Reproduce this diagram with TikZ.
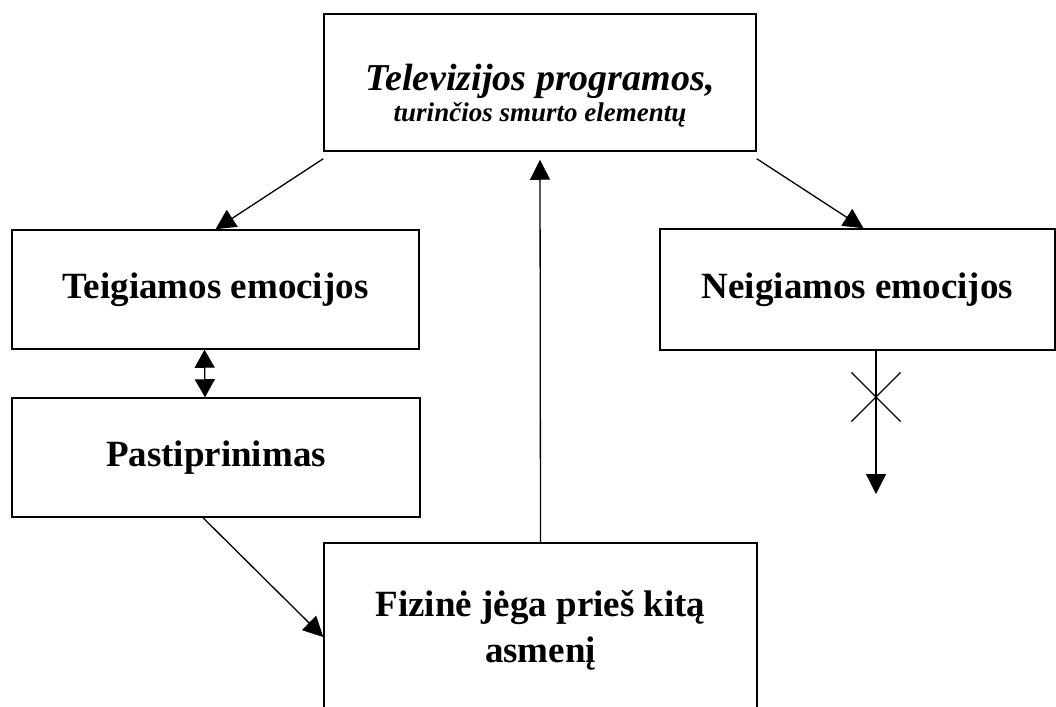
\documentclass[tikz,border=0pt]{standalone}
\usepackage{fontspec}
\setmainfont{Liberation Serif}
\usetikzlibrary{arrows.meta, shapes.misc}
\tikzset{
  box/.style={draw, line width=1.5pt, rectangle, align=center, inner sep=0pt},
  conn/.style={line width=1.3pt, -{Triangle[length=20pt, width=20pt]}},
  big/.style={font=\bfseries\fontsize{37}{46}\selectfont}}

\begin{document}
\begin{tikzpicture}[x=1pt, y=-1pt]
	\clip (0,0) rectangle (1056,706);
	\node[box, minimum width=432pt, minimum height=137pt,
	  font=\bfseries\itshape\fontsize{38}{31}\selectfont] (tv) at (540,82.5)
	  {\rule{0pt}{52pt}Televizijos programos,\\{\fontsize{27}{31}\selectfont turinčios smurto elementų}};
	\node[box, big, minimum width=407pt, minimum height=119pt] (teig) at (215.5,289.5) {Teigiamos emocijos};
	\node[box, big, minimum width=408pt, minimum height=119pt] (past) at (216,457.5) {Pastiprinimas};
	\node[box, big, minimum width=395pt, minimum height=121pt] (neig) at (857.5,289.5) {Neigiamos emocijos};
	\node[box, big, minimum width=433pt, minimum height=174pt] (fiz) at (540.5,630) {Fizinė jėga prieš kitą\\asmenį};
\coordinate (stop) at (876,494);
\draw[conn] ([yshift=-7pt]tv.south west) -- (teig.north);
\draw[conn] ([yshift=-7pt]tv.south east) -- ([xshift=6pt]neig.north);
\draw[conn] (fiz.north) -- ([yshift=-8pt]tv.south);
\draw[conn, {Triangle[length=18pt, width=20pt]}-{Triangle[length=18pt, width=20pt]}] ([xshift=-11pt]teig.south) -- ([xshift=-11pt]past.north);
\draw[conn] ([xshift=18.5pt]neig.south) -- (stop);
\node[cross out, draw, line width=1.2pt, minimum size=48pt, inner sep=0pt] (x) at (876,397) {};
\draw[conn] ([xshift=-13pt]past.south) -- ([yshift=-7pt]fiz.west);
	\end{tikzpicture}
\end{document}
